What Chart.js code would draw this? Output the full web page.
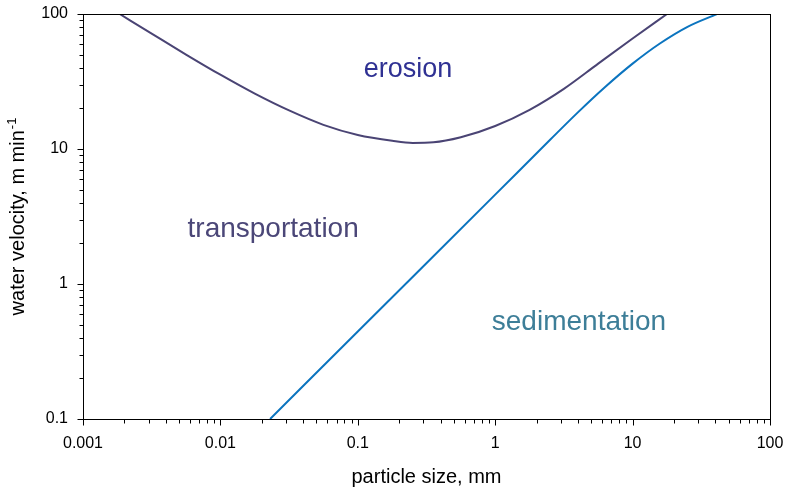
<!DOCTYPE html>
<html>
<head>
<meta charset="utf-8">
<title>Hjulström curve</title>
<script src="https://cdn.jsdelivr.net/npm/chart.js@4.4.1/dist/chart.umd.min.js"></script>
<style>
  html, body { margin: 0; padding: 0; background: #fff; }
  canvas { display: block; }
</style>
</head>
<body>
<canvas id="chart" width="787" height="490"></canvas>
<script>
// particle size (mm) vs water velocity (m/min)
const erosionSize = [0.00185, 0.00316, 0.00562, 0.01, 0.0178, 0.0316, 0.0562, 0.1, 0.178, 0.251, 0.355, 0.562, 1, 1.78, 3.16, 5.62, 10, 17.8];
const erosionVel  = [100, 71.6, 50.1, 35.5, 25.7, 19.3, 15.1, 12.7, 11.5, 11.1, 11.2, 12.2, 14.8, 19.5, 27.9, 42.9, 65.8, 100];

const settleSize = [0.023, 0.1, 1, 2.51, 3.98, 6.31, 10, 15.8, 25.1, 41.1];
const settleVel  = [0.1, 0.445, 4.59, 11.7, 18.6, 28.8, 42.9, 60.5, 80.4, 100];

const xTicks = [0.001, 0.01, 0.1, 1, 10, 100];
const xTickLabels = ["0.001", "0.01", "0.1", "1", "10", "100"];
const yTicks = [0.1, 1, 10, 100];
const yTickLabels = ["0.1", "1", "10", "100"];

const regionNames = ["erosion", "transportation", "sedimentation"];
const regionAt = [[0.232, 34.1], [0.0242, 2.23], [4.07, 0.456]];

const FONT = "'Liberation Sans', Arial, sans-serif";
const C = {
  erosion: "#4a4474", settle: "#0b74bf", axis: "#000",
  labels: ["#2f3193", "#4b4778", "#3d7e98"]
};
const labelSize = [27, 28, 28];

const pts = (xs, ys) => xs.map((v, i) => ({ x: v, y: ys[i] }));
const noPad = s => { s.paddingTop = 0; s.paddingBottom = 0; s.paddingLeft = 0; s.paddingRight = 0; };

// frame, outward major/minor ticks, y title with superscript, region names
const decor = {
  id: "decor",
  afterDraw(chart) {
    const { ctx, chartArea: a, scales: { x, y } } = chart;
    const L = Math.floor(a.left) + 0.5, R = Math.floor(a.right) + 0.5;
    const T = Math.floor(a.top) + 0.5, B = Math.floor(a.bottom) + 0.5;
    ctx.save();
    ctx.strokeStyle = C.axis;
    ctx.lineWidth = 1;
    ctx.strokeRect(L, T, R - L, B - T);

    ctx.beginPath();
    xTicks.forEach((d, i) => {
      const px = Math.round(x.getPixelForValue(d)) + 0.5;
      ctx.moveTo(px, B); ctx.lineTo(px, B + 6);
      if (i < xTicks.length - 1) {
        for (let k = 2; k < 10; k++) {
          const mx = Math.round(x.getPixelForValue(d * k)) + 0.5;
          ctx.moveTo(mx, B); ctx.lineTo(mx, B + 4);
        }
      }
    });
    yTicks.forEach((d, i) => {
      const py = Math.round(y.getPixelForValue(d)) + 0.5;
      ctx.moveTo(L, py); ctx.lineTo(L - 6, py);
      if (i < yTicks.length - 1) {
        for (let k = 2; k < 10; k++) {
          const my = Math.round(y.getPixelForValue(d * k)) + 0.5;
          ctx.moveTo(L, my); ctx.lineTo(L - 4, my);
        }
      }
    });
    ctx.stroke();

    // x title
    ctx.fillStyle = C.axis;
    ctx.font = "20px " + FONT;
    ctx.textAlign = "center";
    ctx.textBaseline = "alphabetic";
    ctx.fillText("particle size, mm", (a.left + a.right) / 2, 483);

    // y title, rotated, with superscript -1
    const main = "water velocity, m min", sup = "-1";
    ctx.font = "20px " + FONT;
    const w1 = ctx.measureText(main).width;
    ctx.font = "13px " + FONT;
    const w2 = ctx.measureText(sup).width;
    ctx.translate(23.5, (a.top + a.bottom) / 2);
    ctx.rotate(-Math.PI / 2);
    ctx.textAlign = "left";
    const x0 = -(w1 + 1 + w2) / 2;
    ctx.font = "20px " + FONT;
    ctx.fillText(main, x0, 0);
    ctx.font = "13px " + FONT;
    ctx.fillText(sup, x0 + w1 + 1, -8);
    ctx.setTransform(1, 0, 0, 1, 0, 0);

    // region names
    ctx.textAlign = "center";
    regionNames.forEach((name, i) => {
      ctx.font = labelSize[i] + "px " + FONT;
      ctx.fillStyle = C.labels[i];
      ctx.fillText(name, x.getPixelForValue(regionAt[i][0]), y.getPixelForValue(regionAt[i][1]));
    });
    ctx.restore();
  }
};

new Chart(document.getElementById("chart"), {
  type: "line",
  data: {
    datasets: [
      { label: "erosion", data: pts(erosionSize, erosionVel), borderColor: C.erosion },
      { label: "sedimentation", data: pts(settleSize, settleVel), borderColor: C.settle }
    ]
  },
  options: {
    responsive: false,
    animation: false,
    layout: { padding: { top: 14, right: 17, left: 0, bottom: 0 } },
    elements: {
      line: { borderWidth: 2, fill: false, cubicInterpolationMode: "monotone" },
      point: { radius: 0, hoverRadius: 0 }
    },
    plugins: { legend: { display: false }, tooltip: { enabled: false } },
    scales: {
      x: {
        type: "logarithmic", min: 0.001, max: 100,
        afterBuildTicks: s => { s.ticks = xTicks.map(v => ({ value: v })); },
        afterFit: s => { s.height = 71; noPad(s); },
        ticks: {
          autoSkip: false, maxRotation: 0, padding: 15, color: C.axis,
          font: { size: 16, family: FONT },
          callback: v => xTickLabels[xTicks.indexOf(v)] ?? ""
        },
        grid: { display: false, drawTicks: false },
        border: { display: false }
      },
      y: {
        type: "logarithmic", min: 0.1, max: 100,
        afterBuildTicks: s => { s.ticks = yTicks.map(v => ({ value: v })); },
        afterFit: s => { s.width = 83; noPad(s); },
        ticks: {
          autoSkip: false, padding: 15, color: C.axis,
          font: { size: 16, family: FONT },
          callback: v => yTickLabels[yTicks.indexOf(v)] ?? ""
        },
        grid: { display: false, drawTicks: false },
        border: { display: false }
      }
    }
  },
  plugins: [decor]
});
</script>
</body>
</html>
